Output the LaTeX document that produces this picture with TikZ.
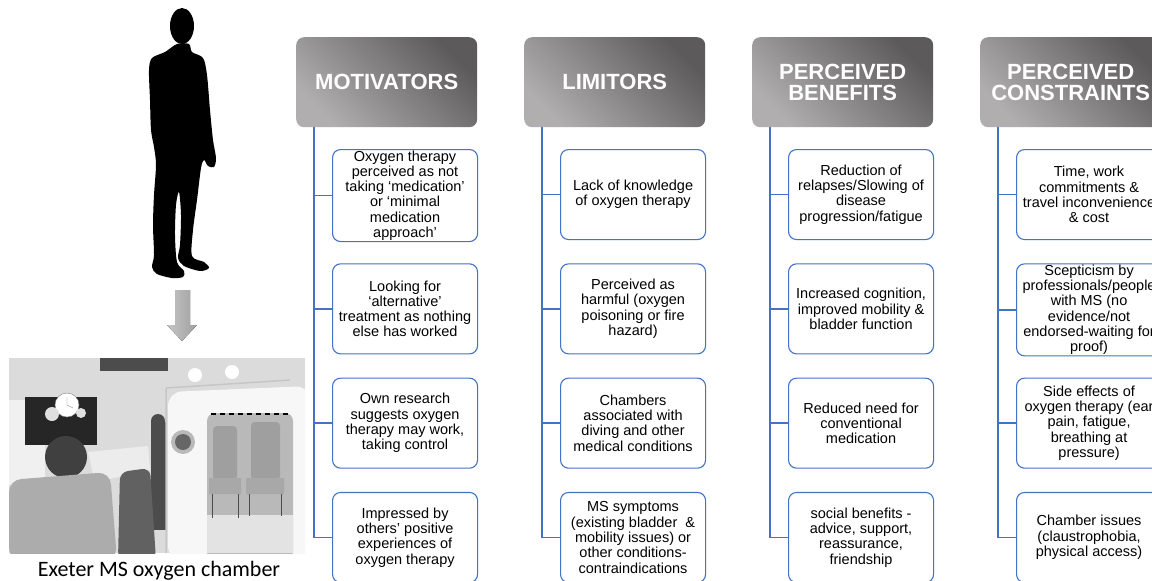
\documentclass[tikz,border=0pt]{standalone}
\usepackage{fontspec}
\setmainfont{Liberation Sans}
\newfontfamily\capfont{Carlito}
\usepackage{xcolor}
\usepackage{tikz}
\usetikzlibrary{positioning,calc}
\definecolor{linkblue}{RGB}{68,114,196}
\definecolor{headdark}{RGB}{92,90,90}
\definecolor{headlight}{RGB}{176,174,174}

\begin{document}
\begin{tikzpicture}[x=1pt, y=-1pt,
    header/.style={rounded corners=8pt, minimum width=181pt, minimum height=90pt, anchor=north west,
        top color=headdark, bottom color=headlight, shading angle=-45, text=white, align=center,
        font=\bfseries\fontsize{22}{21}\selectfont},
    item/.style={draw=linkblue, line width=1.1pt, rounded corners=8pt, fill=white, minimum width=145pt,
        minimum height=90pt, anchor=north west, align=center, inner sep=1pt,
        font=\fontsize{14.5}{15.3}\selectfont},
    branch/.style={draw=linkblue, line width=1.7pt}]
    \useasboundingbox (0,0) rectangle (1152,581);
    \clip (0,0) rectangle (1152,581);
    \fill[white] (0,0) rectangle (1152,581);

    % Person
    \fill (182,26) ellipse [x radius=12, y radius=18];
    \fill plot[smooth cycle, tension=0.5] coordinates {(177,44) (165,52) (152,58) (149,70) (150,100)
        (151,130) (154,147) (156,165) (154,195) (153,225) (154,255) (152,267) (157,274) (172,278)
        (183,277) (184,271) (177,262) (175,235) (176,205) (179,192) (181,215) (180,245) (178,258)
        (184,266) (200,271) (209,268) (204,262) (192,256) (193,230) (197,200) (201,168) (204,160)
        (208,166) (214,167) (216,158) (213,140) (210,110) (207,75) (203,58) (192,52) (189,44)};
    \fill[left color=gray!45, right color=gray!75] (175,290) -- (190,290) -- (190,325) -- (197,325)
        -- (182,341) -- (167,325) -- (175,325) -- cycle;

    % Chamber photo
    \begin{scope}
        \clip (9,358) rectangle (305,553);
        \fill[gray!28] (9,358) rectangle (305,553);
        \fill[black!70] (100,358) rectangle (168,371);
        \fill[gray!12] (9,400) rectangle (45,485);
        \fill[black!85] (25,397) rectangle (97,445);
        \fill[white] (67,405) circle (12);
        \draw[gray] (67,405) circle (12) (67,405) -- (67,397) (67,405) -- (73,408);
        \fill[gray!25] (52,414) circle (7) (81,413) circle (5);
        \fill[gray!15] (88,452) -- (148,446) -- (150,470) -- (95,482) -- cycle;
        \fill[black!75] (66,457) circle (21);
        \fill[black!70] (151,422) rectangle (166,530);
        \fill[black!70] (158,421) circle (7);
        \fill[gray!65, rounded corners=12pt] (9,480) -- (110,472) -- (117,560) -- (9,560) -- cycle;
        \fill[black!62, rounded corners=8pt] (120,472) -- (150,468) -- (156,560) -- (118,560) -- cycle;
        \fill[gray!6, rounded corners=14pt] (168,392) -- (310,386) -- (310,560) -- (168,560) -- cycle;
        \draw[gray!45, line width=1.5pt] (166,388) -- (166,553) (166,388) -- (290,380);
        \fill[white] (195,375) circle (7) (232,372) circle (7);
        \fill[gray!55] (183,442) circle (12);
        \fill[black!60] (183,442) circle (8);
        \fill[gray!55, rounded corners=8pt] (207,413) rectangle (293,560);
        \fill[gray!22] (207,515) rectangle (293,553);
        \draw[black, line width=2pt, dash pattern=on 5pt off 4pt] (211,414) -- (290,414);
        \fill[gray!75, rounded corners=4pt] (213,426) rectangle (237,480);
        \fill[gray!75, rounded corners=4pt] (251,422) rectangle (280,480);
        \fill[gray!68] (209,478) rectangle (241,494) (246,478) rectangle (284,494);
        \draw[black!70, line width=1pt] (212,494) -- (212,518) (238,494) -- (238,518)
            (249,494) -- (249,516) (281,494) -- (281,516);
    \end{scope}
    \node[font=\capfont\fontsize{22}{22}\selectfont, anchor=base] (cap) at (159,576) {Exeter MS oxygen chamber};

    % Motivators
    \node[header] (mot) at (296,37) {MOTIVATORS};
    \node[item] (mot1) at (332,149) {Oxygen therapy\\perceived as not\\taking `medication'\\or `minimal\\medication\\approach'};
    \node[item] (mot2) at (332,263.3) {Looking for\\`alternative'\\treatment as nothing\\else has worked};
    \node[item] (mot3) at (332,377.6) {Own research\\suggests oxygen\\therapy may work,\\taking control};
    \node[item] (mot4) at (332,491.9) {Impressed by\\others' positive\\experiences of\\oxygen therapy};
    \foreach \i in {1,...,4}
        \draw[branch] ([xshift=18pt]mot.south west) |- (mot\i.west);

    % Limitors
    \begin{scope}[xshift=228pt]
        \node[header] (lim) at (296,37) {LIMITORS};
        \node[item] (lim1) at (332,149) {Lack of knowledge\\of oxygen therapy};
        \node[item] (lim2) at (332,263.3) {Perceived as\\harmful (oxygen\\poisoning or fire\\hazard)};
        \node[item] (lim3) at (332,377.6) {Chambers\\associated with\\diving and other\\medical conditions};
        \node[item] (lim4) at (332,491.9) {MS symptoms\\(existing bladder~~\&\\mobility issues) or\\other conditions-\\contraindications};
        \foreach \i in {1,...,4}
            \draw[branch] ([xshift=18pt]lim.south west) |- (lim\i.west);
    \end{scope}

    % Perceived benefits
    \begin{scope}[xshift=456pt]
        \node[header] (ben) at (296,37) {PERCEIVED\\BENEFITS};
        \node[item] (ben1) at (332,149) {Reduction of\\relapses/Slowing of\\disease\\progression/fatigue};
        \node[item] (ben2) at (332,263.3) {Increased cognition,\\improved mobility \&\\bladder function};
        \node[item] (ben3) at (332,377.6) {Reduced need for\\conventional\\medication};
        \node[item] (ben4) at (332,491.9) {social benefits -\\advice, support,\\reassurance,\\friendship};
        \foreach \i in {1,...,4}
            \draw[branch] ([xshift=18pt]ben.south west) |- (ben\i.west);
    \end{scope}

    % Perceived constraints
    \begin{scope}[xshift=684pt]
        \node[header] (con) at (296,37) {PERCEIVED\\CONSTRAINTS};
        \node[item] (con1) at (332,149) {Time, work\\commitments \&\\travel inconvenience\\\& cost};
        \node[item] (con2) at (332,263.3) {Scepticism by\\professionals/people\\with MS (no\\evidence/not\\endorsed-waiting for\\proof)};
        \node[item] (con3) at (332,377.6) {Side effects of\\oxygen therapy (ear\\pain, fatigue,\\breathing at\\pressure)};
        \node[item] (con4) at (332,491.9) {Chamber issues\\(claustrophobia,\\physical access)};
        \foreach \i in {1,...,4}
            \draw[branch] ([xshift=18pt]con.south west) |- (con\i.west);
    \end{scope}
\end{tikzpicture}
\end{document}
